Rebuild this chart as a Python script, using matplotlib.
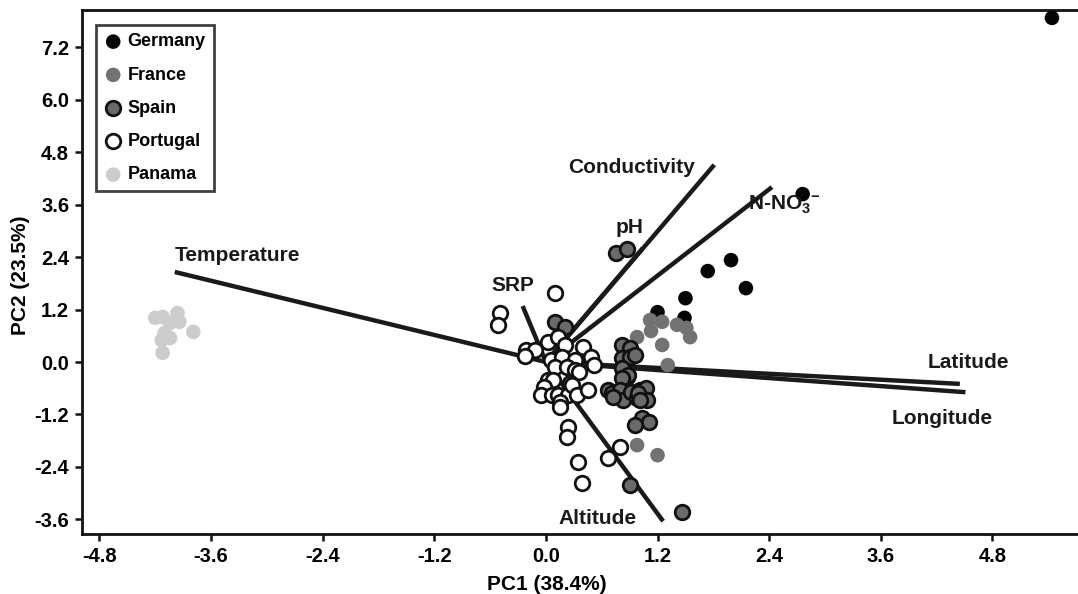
import numpy as np
import matplotlib.pyplot as plt

plt.rcParams['font.family'] = ['Liberation Sans', 'DejaVu Sans']
plt.rcParams['font.weight'] = 'bold'
plt.rcParams['mathtext.fontset'] = 'custom'
plt.rcParams['mathtext.rm'] = 'Liberation Sans:bold'
plt.rcParams['mathtext.bf'] = 'Liberation Sans:bold'

# sample scores (PC1, PC2)
germany_x = [5.44, 2.76, 2.15, 1.99, 1.74, 1.50, 1.49, 1.20]
germany_y = [7.87, 3.84, 1.69, 2.33, 2.08, 1.46, 1.01, 1.14]

france_x = [1.12, 1.25, 1.41, 1.51, 1.55, 1.13, 0.98, 1.25, 1.31, 0.98, 1.20]
france_y = [0.96, 0.92, 0.85, 0.78, 0.57, 0.71, 0.57, 0.39, -0.07, -1.90, -2.13]

spain_x = [0.75, 0.87, 0.10, 0.21, 0.82, 0.90, 0.82, 0.90, 0.96, 0.82, 0.87, 0.88,
           0.82, 0.67, 0.71, 0.80, 0.83, 0.92, 0.98, 1.01, 1.08, 1.09, 0.99, 0.72,
           1.01, 1.03, 1.11, 0.96, 0.90, 1.46]
spain_y = [2.49, 2.59, 0.92, 0.80, 0.39, 0.32, 0.09, 0.11, 0.16, -0.14, -0.34, -0.30,
           -0.37, -0.64, -0.71, -0.64, -0.87, -0.69, -0.82, -0.64, -0.59, -0.87, -0.71, -0.80,
           -0.87, -1.28, -1.37, -1.44, -2.81, -3.43]

portugal_x = [0.10, -0.49, -0.51, 0.02, 0.13, 0.21, -0.21, -0.12, -0.23, 0.05,
              0.17, 0.31, 0.40, 0.49, 0.52, 0.10, 0.23, 0.31, 0.36, 0.02,
              0.08, 0.26, -0.02, -0.05, 0.07, 0.13, 0.24, 0.28, 0.33, 0.45,
              0.15, 0.15, 0.24, 0.23, 0.80, 0.67, 0.34, 0.39]
portugal_y = [1.58, 1.12, 0.85, 0.46, 0.57, 0.39, 0.27, 0.27, 0.14, 0.05,
              0.11, 0.05, 0.34, 0.11, -0.07, -0.11, -0.11, -0.18, -0.23, -0.41,
              -0.41, -0.48, -0.57, -0.76, -0.76, -0.76, -0.76, -0.53, -0.76, -0.64,
              -0.92, -1.03, -1.49, -1.72, -1.95, -2.20, -2.29, -2.77]

panama_x = [-4.20, -4.12, -3.96, -3.94, -4.04, -4.10, -4.04, -3.79, -4.12, -4.13]
panama_y = [1.01, 1.03, 1.12, 0.92, 0.89, 0.66, 0.55, 0.69, 0.21, 0.50]

# variable loadings (arrow tips) and label positions
variables = ['Temperature', 'SRP', 'pH', 'Conductivity', r'N-NO$_\mathbf{3}$$^\mathbf{-}$',
             'Latitude', 'Longitude', 'Altitude']
load_x = [-3.99, -0.25, 1.04, 1.81, 2.43, 4.45, 4.51, 1.26]
load_y = [2.06, 1.28, 2.60, 4.51, 4.00, -0.50, -0.69, -3.64]
label_x = [-3.99, -0.36, 0.90, 0.92, 2.17, 4.54, 4.26, 0.55]
label_y = [2.43, 1.76, 3.07, 4.46, 3.59, -0.02, -1.30, -3.57]
label_ha = ['left', 'center', 'center', 'center', 'left', 'center', 'center', 'center']

xticks = [-4.8, -3.6, -2.4, -1.2, 0.0, 1.2, 2.4, 3.6, 4.8]
yticks = [-3.6, -2.4, -1.2, 0.0, 1.2, 2.4, 3.6, 4.8, 6.0, 7.2]

fig = plt.figure(figsize=(10.78, 5.94), dpi=100)
ax = fig.add_axes([0.0758, 0.1005, 0.9242, 0.8826])

for lx, ly in zip(load_x, load_y):
    ax.plot([0, lx], [0, ly], color='#1a1a1a', lw=3.2, solid_capstyle='butt', zorder=2)

ms = 110
ax.scatter(germany_x, germany_y, s=ms, c='#050505', edgecolors='none', label='Germany', zorder=3)
ax.scatter(france_x, france_y, s=ms, c='#727272', edgecolors='none', label='France', zorder=3)
ax.scatter(spain_x, spain_y, s=ms, c='#6a6a6a', edgecolors='#111111', linewidths=2, label='Spain', zorder=3)
ax.scatter(portugal_x, portugal_y, s=ms, c='white', edgecolors='#111111', linewidths=2, label='Portugal', zorder=3)
ax.scatter(panama_x, panama_y, s=ms, c='#cccccc', edgecolors='none', label='Panama', zorder=3)

for name, tx, ty, ha in zip(variables, label_x, label_y, label_ha):
    ax.text(tx, ty, name, ha=ha, va='center', fontsize=15, fontweight='bold', color='#1a1a1a', zorder=4)

ax.set_xlim(-4.99, 5.72)
ax.set_ylim(-3.94, 8.05)
ax.set_xticks(xticks)
ax.set_xticklabels(['%.1f' % v for v in xticks])
ax.set_yticks(yticks)
ax.set_yticklabels(['%.1f' % v for v in yticks])
ax.tick_params(labelsize=14.5, width=1.8, length=5, color='#111111', pad=4)
for lab in ax.get_xticklabels() + ax.get_yticklabels():
    lab.set_fontweight('bold')
for side in ['left', 'bottom', 'top']:
    ax.spines[side].set_linewidth(2)
    ax.spines[side].set_color('#111111')
ax.spines['right'].set_visible(False)

ax.set_xlabel('PC1 (38.4%)', fontsize=15, fontweight='bold')
ax.set_ylabel('PC2 (23.5%)', fontsize=15, fontweight='bold')
ax.xaxis.set_label_coords(0.467, -0.078)
ax.yaxis.set_label_coords(-0.052, 0.495)

leg = ax.legend(loc='upper left', bbox_to_anchor=(0.0144, 0.971), fontsize=13,
                frameon=True, fancybox=False, edgecolor='#111111', labelspacing=0.9,
                handletextpad=0.3, borderpad=0.45, handlelength=1.0, borderaxespad=0)
leg.get_frame().set_linewidth(2)
for t in leg.get_texts():
    t.set_fontweight('bold')

fig.savefig('out.png', dpi=100)
